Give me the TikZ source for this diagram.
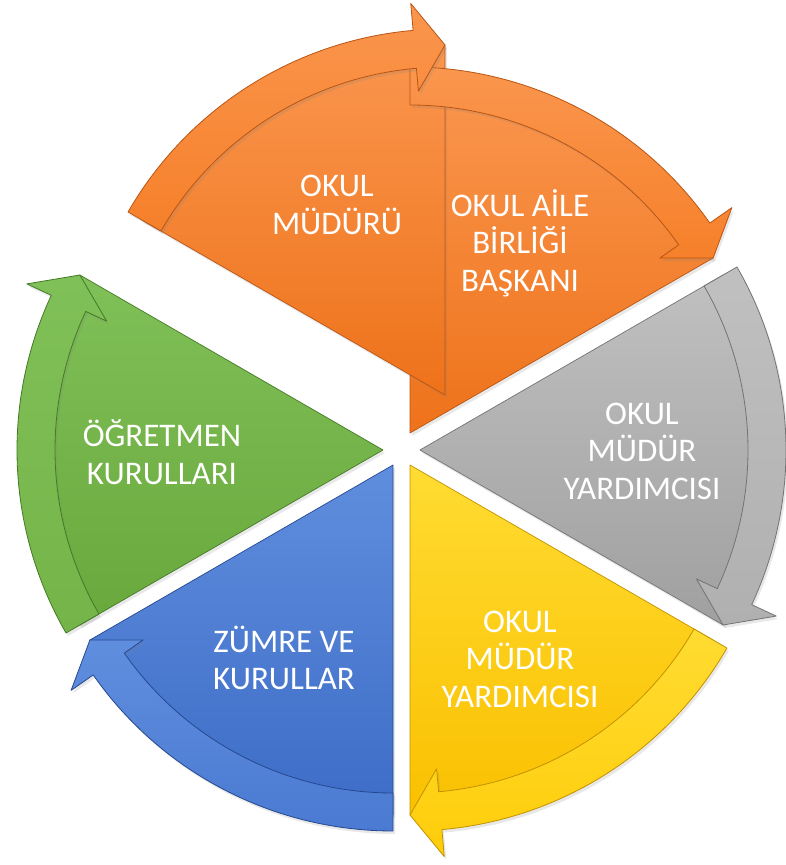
\documentclass[tikz,border=0pt]{standalone}
\usepackage{fontspec}
\setmainfont{Carlito}
\usetikzlibrary{shadows}
\definecolor{orL}{RGB}{250,150,78}
\definecolor{orM}{RGB}{246,128,42}
\definecolor{orD}{RGB}{238,114,26}
\definecolor{orE}{RGB}{185,85,20}
\definecolor{grL}{RGB}{192,192,192}
\definecolor{grM}{RGB}{176,176,176}
\definecolor{grD}{RGB}{160,160,160}
\definecolor{grE}{RGB}{115,115,115}
\definecolor{yeL}{RGB}{255,220,50}
\definecolor{yeM}{RGB}{254,205,10}
\definecolor{yeD}{RGB}{250,192,0}
\definecolor{yeE}{RGB}{195,145,0}
\definecolor{blL}{RGB}{96,142,222}
\definecolor{blM}{RGB}{74,122,210}
\definecolor{blD}{RGB}{60,108,198}
\definecolor{blE}{RGB}{38,72,145}
\definecolor{gnL}{RGB}{128,192,88}
\definecolor{gnM}{RGB}{116,180,72}
\definecolor{gnD}{RGB}{104,168,60}
\definecolor{gnE}{RGB}{68,122,38}
\tikzset{
  segshadow/.style={drop shadow={opacity=0.18, shadow xshift=2pt, shadow yshift=-3pt}},
  seglabel/.style={text=white, align=center, font=\fontsize{33}{37.5}\selectfont, inner sep=0pt},
}
% apex, start angle, end angle, colour prefix
\newcommand\segwedge[4]{%
  \begin{scope}[shift={#1}]
    \path[segshadow, top color=#4L, bottom color=#4D, draw=#4E, line width=0.7pt, line join=round]
      (0,0) -- (#2:350) arc[start angle=#2, end angle=#3, radius=350] -- cycle;
  \end{scope}}
% apex, tail angle, tip angle, colour prefix
\newcommand\segarrow[4]{%
  \begin{scope}[shift={#1}]
    \pgfmathsetmacro\hb{#3+5}
    \path[segshadow, top color=#4L, bottom color=#4M, draw=#4E, line width=0.8pt, line join=round]
      (#2:328) arc[start angle=#2, end angle=\hb, radius=328]
      -- (\hb:305) -- (#3:350) -- (\hb:393) -- (\hb:366)
      arc[start angle=\hb, end angle=#2, radius=366] -- cycle;
  \end{scope}}
\begin{document}
\begin{tikzpicture}[x=1pt,y=1pt]
\useasboundingbox (0,0) rectangle (785,865);
% wedges
\segwedge{(410,432)}{30}{90}{or}
\segwedge{(445,470)}{90}{150}{or}
\segwedge{(420,415)}{-30}{30}{gr}
\segwedge{(410,400)}{-90}{-30}{ye}
\segwedge{(393,400)}{210}{270}{bl}
\segwedge{(383,415)}{150}{210}{gn}
% arrows
\segarrow{(410,432)}{90}{30}{or}
\segarrow{(445,470)}{150}{90}{or}
\segarrow{(420,415)}{30}{-30}{gr}
\segarrow{(410,400)}{-30}{-90}{ye}
\segarrow{(393,400)}{270}{210}{bl}
\segarrow{(383,415)}{210}{150}{gn}
% labels
\node[seglabel] (mudur) at (337,660) {OKUL\\MÜDÜRÜ};
\node[seglabel] (aile) at (520,622) {OKUL AİLE\\BİRLİĞİ\\BAŞKANI};
\node[seglabel] (yrd1) at (642,414) {OKUL\\MÜDÜR\\YARDIMCISI};
\node[seglabel] (yrd2) at (520,206) {OKUL\\MÜDÜR\\YARDIMCISI};
\node[seglabel] (zumre) at (284,207) {ZÜMRE VE\\KURULLAR};
\node[seglabel] (ogrt) at (162,413) {ÖĞRETMEN\\KURULLARI};
\end{tikzpicture}
\end{document}
